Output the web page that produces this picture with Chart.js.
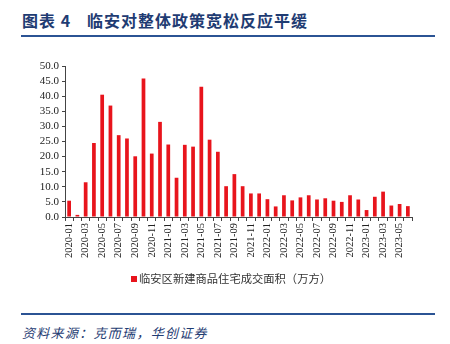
<!DOCTYPE html>
<html>
<head>
<meta charset="utf-8">
<script src="https://cdn.jsdelivr.net/npm/chart.js@4"></script>
<style>
  html, body { margin: 0; padding: 0; background: #fff; }
  #wrap { position: relative; width: 450px; height: 344px; overflow: hidden; }
  #title {
    position: absolute; left: 22px; top: 8px;
    font: bold 16px "Noto Sans CJK SC", sans-serif;
    color: #1f3c73; white-space: nowrap; letter-spacing: 1px;
  }
  #title .num { margin-right: 16px; }
  .rule { position: absolute; left: 21px; width: 414px; height: 2px; background: #2b5394; }
  #source {
    position: absolute; left: 22px; top: 323px;
    font: italic 13px "Noto Sans CJK SC", sans-serif;
    color: #1f3c73; letter-spacing: 1.3px;
  }
  #box { position: absolute; left: 0; top: 0; width: 450px; height: 296px; }
  #legenda {
    position: absolute; left: 131px; top: 270px; white-space: nowrap;
    font: 11.3px "Noto Sans CJK SC", sans-serif; color: #333; line-height: 16px;
  }
  #legenda i {
    display: inline-block; width: 6px; height: 6px; margin-right: 2px;
    vertical-align: 1px;
  }
</style>
</head>
<body>
<div id="wrap">
  <div id="title"><span class="num">图表 4</span>临安对整体政策宽松反应平缓</div>
  <div class="rule" style="top:35px"></div>
  <div id="box"><canvas id="grafico"></canvas></div>
  <div id="legenda"></div>
  <div class="rule" style="top:313px"></div>
  <div id="source">资料来源：克而瑞，华创证券</div>
</div>
<script>
// 月份
const meses = [
  "2020-01", "2020-02", "2020-03", "2020-04", "2020-05", "2020-06",
  "2020-07", "2020-08", "2020-09", "2020-10", "2020-11", "2020-12",
  "2021-01", "2021-02", "2021-03", "2021-04", "2021-05", "2021-06",
  "2021-07", "2021-08", "2021-09", "2021-10", "2021-11", "2021-12",
  "2022-01", "2022-02", "2022-03", "2022-04", "2022-05", "2022-06",
  "2022-07", "2022-08", "2022-09", "2022-10", "2022-11", "2022-12",
  "2023-01", "2023-02", "2023-03", "2023-04", "2023-05", "2023-06",
];

// 临安区新建商品住宅成交面积（万方）
const area = [
  5.4, 0.7, 11.5, 24.5, 40.5, 36.9, 27.1, 26.0, 20.1, 45.9, 21.0, 31.5,
  24.0, 13.0, 23.9, 23.3, 43.1, 25.6, 21.6, 10.2, 14.2, 10.2, 7.8, 7.8,
  5.9, 3.5, 7.2, 5.5, 6.5, 7.2, 5.8, 6.2, 5.4, 5.0, 7.2, 5.8,
  2.3, 6.7, 8.4, 3.8, 4.3, 3.6,
];

const serieNome = "临安区新建商品住宅成交面积（万方）";
const vermelho = "#e8141c";
const eixo = "#444";

const grafico = new Chart(document.getElementById("grafico"), {
  type: "bar",
  data: {
    labels: meses,
    datasets: [
      {
        label: serieNome,
        data: area,
        backgroundColor: vermelho,
        borderWidth: 0,
        barPercentage: 0.45,
        categoryPercentage: 1,
      },
    ],
  },
  options: {
    responsive: true,
    maintainAspectRatio: false,
    animation: false,
    layout: { padding: { left: 0, right: 38, top: 66, bottom: 36 } },
    plugins: {
      tooltip: { enabled: false },
      // legenda desenhada em HTML logo abaixo (posição igual ao original)
      legend: { display: false },
    },
    scales: {
      x: {
        offset: true,
        grid: {
          offset: true,
          drawOnChartArea: false,
          drawTicks: true,
          tickLength: 4,
          color: eixo,
        },
        border: { display: true, color: eixo, width: 1 },
        ticks: {
          autoSkip: false,
          minRotation: 90,
          maxRotation: 90,
          padding: 2,
          color: "#222",
          font: { family: "'Liberation Serif', serif", size: 10.5 },
          // só mostra um rótulo a cada dois meses
          callback(valor, i) {
            return i % 2 === 0 ? meses[i] : "";
          },
        },
      },
      y: {
        min: 0,
        max: 50,
        afterFit(escala) {
          escala.width = 65;
        },
        grid: {
          drawOnChartArea: false,
          drawTicks: true,
          tickLength: 3,
          color: eixo,
        },
        border: { display: true, color: eixo, width: 1 },
        ticks: {
          stepSize: 5,
          autoSkip: false,
          padding: 3,
          color: "#222",
          font: { family: "'Liberation Serif', serif", size: 11 },
          callback: (v) => v.toFixed(1),
        },
      },
    },
  },
});

// monta a legenda a partir do dataset
const ds = grafico.data.datasets[0];
document.getElementById("legenda").innerHTML =
  `<i style="background:${ds.backgroundColor}"></i>${ds.label}`;
</script>
</body>
</html>
